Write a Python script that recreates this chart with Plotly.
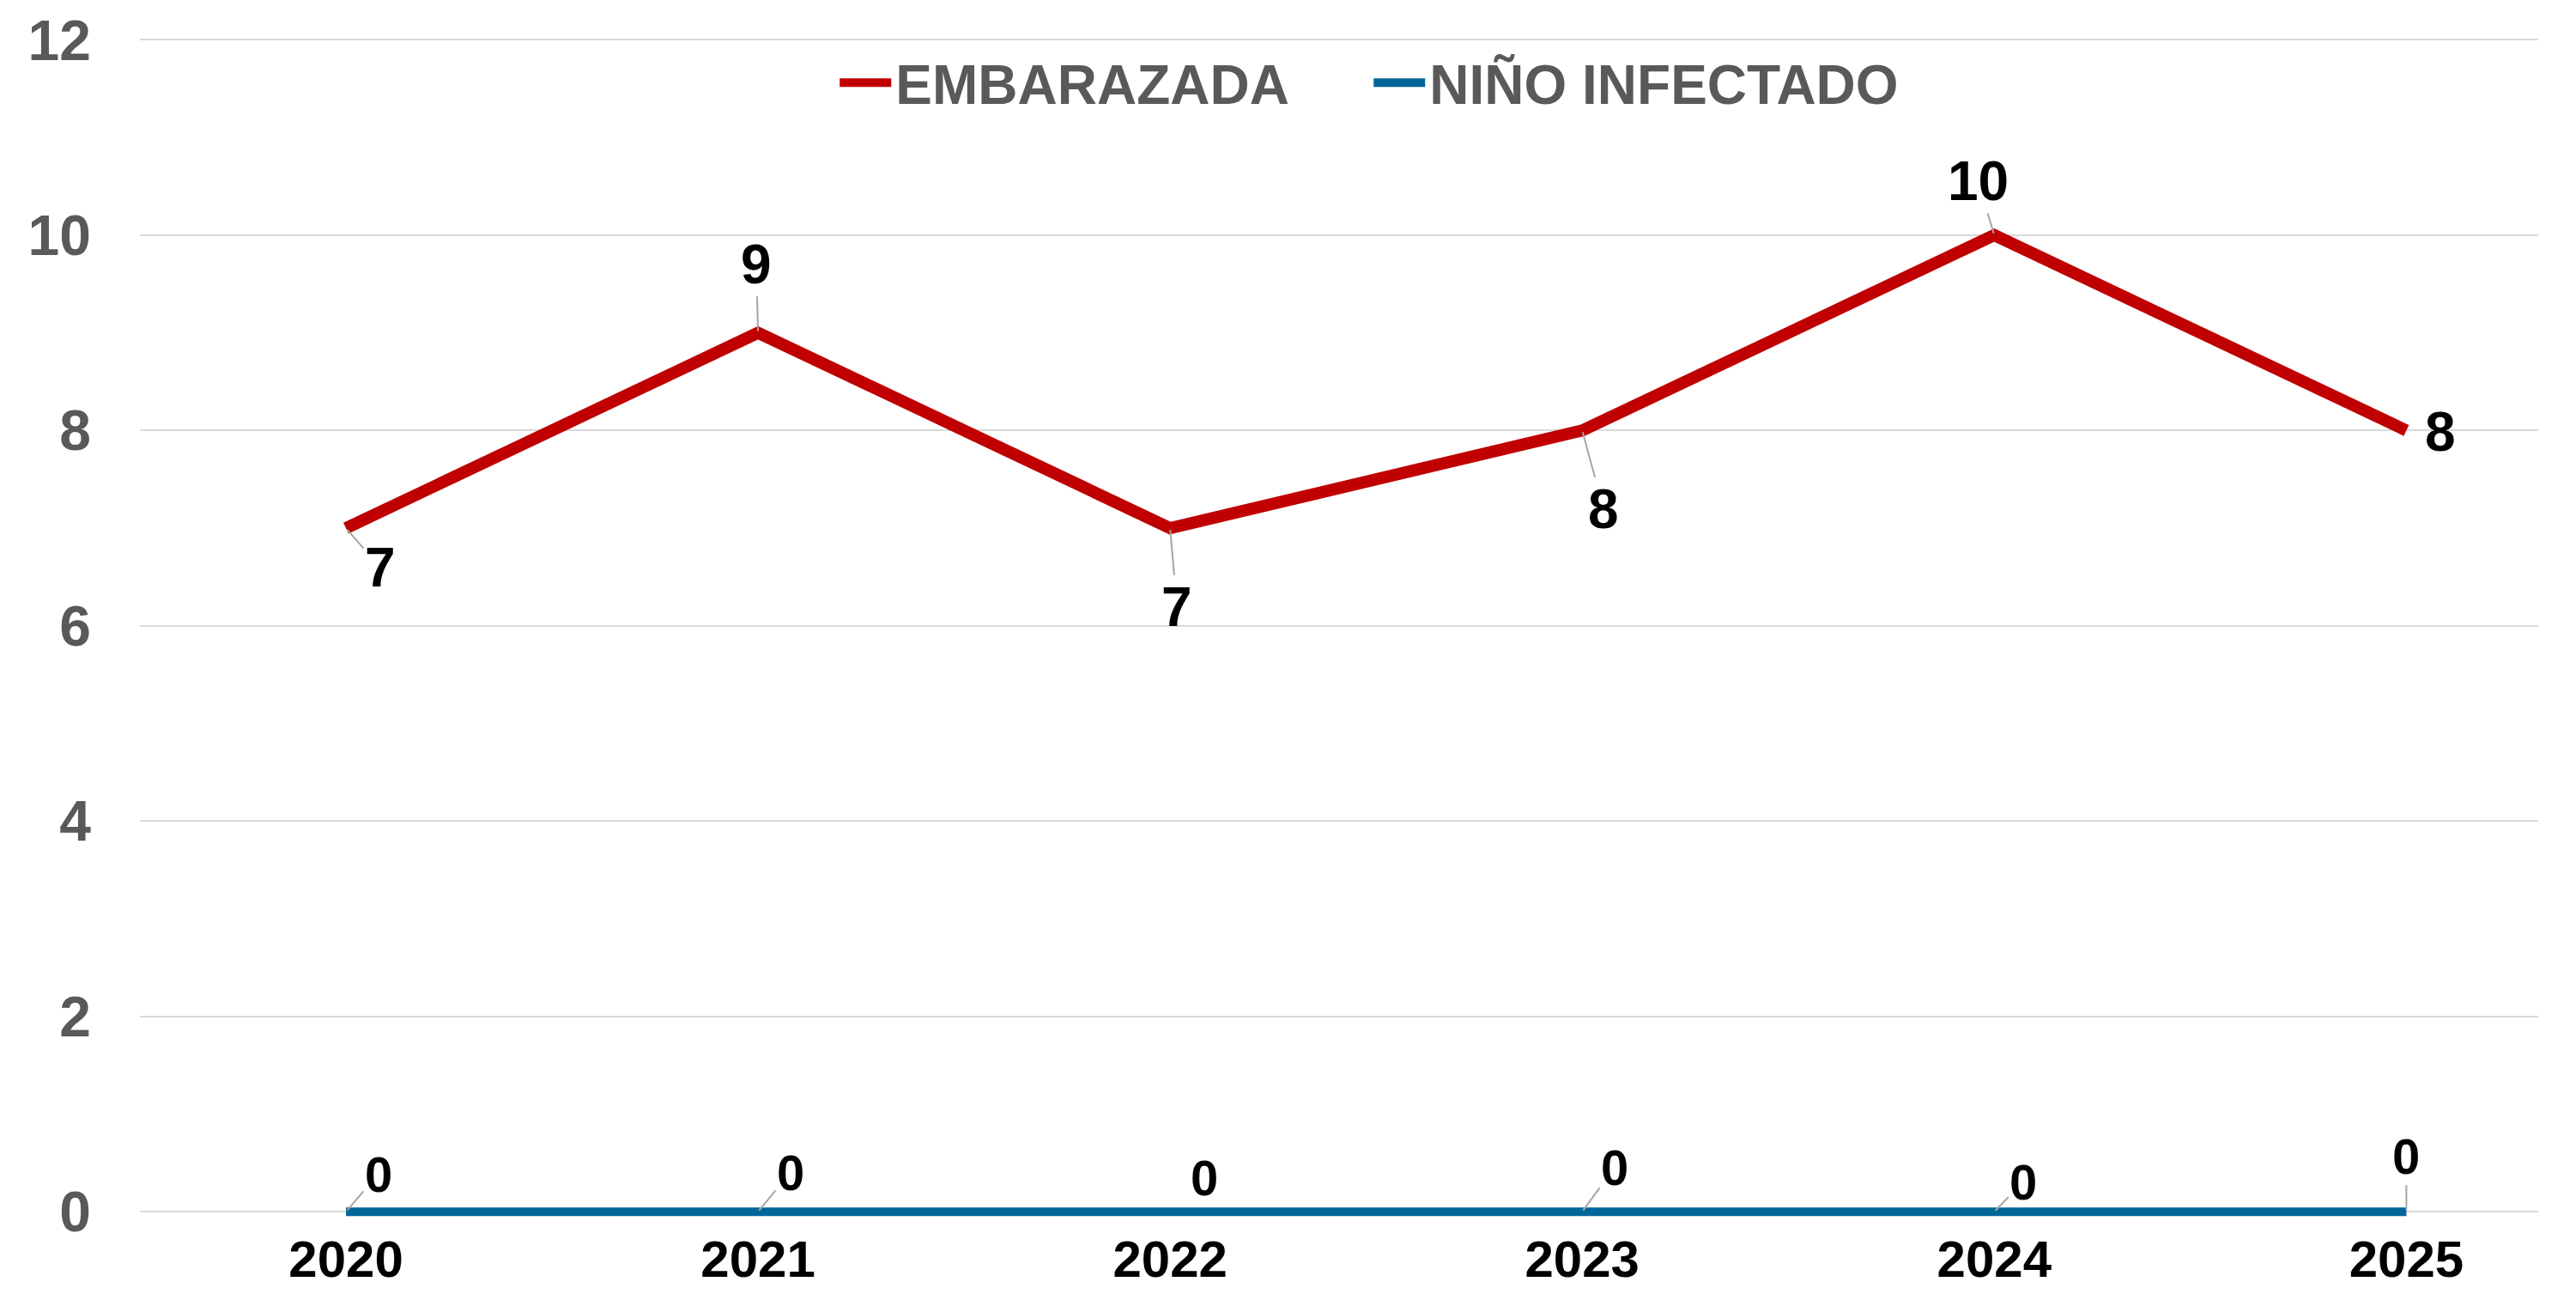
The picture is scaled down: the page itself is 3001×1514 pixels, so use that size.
import plotly.graph_objects as go

# datos
years = ["2020", "2021", "2022", "2023", "2024", "2025"]
embarazada = [7, 9, 7, 8, 10, 8]
nino_infectado = [0, 0, 0, 0, 0, 0]
y_ticks = [0, 2, 4, 6, 8, 10, 12]

# desplazamiento de las etiquetas (px) y si llevan línea guía
emb_offsets = [(40, 46), (-2, -80), (8, 92), (25, 92), (-19, -63), (40, 2)]
emb_leader = [True, True, True, True, True, False]
nino_offsets = [(38, -44), (38, -46), (40, -40), (38, -52), (34, -35), (0, -65)]
nino_leader = [True, True, False, True, True, True]

FONT = "Liberation Sans Narrow, Arial Narrow, Liberation Sans, Arial"
RED = "#C00000"
BLUE = "#00669A"

fig = go.Figure()
fig.add_trace(go.Scatter(x=years, y=embarazada, mode="lines", name="EMBARAZADA",
                         line=dict(color=RED, width=14)))
fig.add_trace(go.Scatter(x=years, y=nino_infectado, mode="lines", name="NIÑO INFECTADO",
                         line=dict(color=BLUE, width=10)))


def add_labels(values, offsets, leaders, size):
    # x como índice de categoría
    for i, v in enumerate(values):
        dx, dy = offsets[i]
        font = dict(family=FONT, size=size, color="black", weight="bold")
        if leaders[i]:
            fig.add_annotation(x=i, y=v, xref="x", yref="y", text=str(v),
                               showarrow=True, arrowhead=0, arrowwidth=2,
                               arrowcolor="#A6A6A6", ax=dx, ay=dy, standoff=2,
                               font=font)
        else:
            fig.add_annotation(x=i, y=v, xref="x", yref="y", text=str(v),
                               showarrow=False, xshift=dx, yshift=-dy, font=font)


add_labels(embarazada, emb_offsets, emb_leader, 64)
add_labels(nino_infectado, nino_offsets, nino_leader, 58)

fig.update_layout(
    width=2985, height=1498,
    margin=dict(l=155, r=36, t=35, b=88),
    paper_bgcolor="white", plot_bgcolor="white",
    showlegend=True,
    legend=dict(orientation="h", x=0.290, xanchor="left", y=0.961, yanchor="middle",
                font=dict(family=FONT, size=64, color="#595959", weight="bold"),
                bgcolor="rgba(0,0,0,0)", itemwidth=60, entrywidth=547),
    xaxis=dict(type="category", range=[-0.5, 5.32], showgrid=False, zeroline=False,
               showline=False, automargin=False,
               tickfont=dict(family=FONT, size=60, color="black", weight="bold"),
               ticklabelstandoff=8),
    yaxis=dict(range=[-0.06, 12.03], tickvals=y_ticks, showgrid=True, gridcolor="#D9D9D9",
               gridwidth=2, zeroline=False, showline=False, automargin=False,
               tickfont=dict(family="Liberation Sans, Arial", size=66, color="#595959",
                             weight="bold"),
               ticklabelstandoff=56),
)

fig.write_html("out.html")
